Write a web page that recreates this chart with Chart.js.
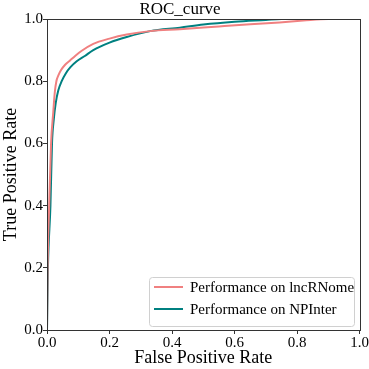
<!DOCTYPE html>
<html>
<head>
<meta charset="utf-8">
<script src="https://cdn.jsdelivr.net/npm/chart.js@4"></script>
<style>
  html, body { margin: 0; padding: 0; background: #fff; }
  #wrap { width: 369px; height: 369px; }
</style>
</head>
<body>
<div id="wrap"><canvas id="roc"></canvas></div>
<script>
// ROC curves
const seriesNames = ['Performance on lncRNome', 'Performance on NPInter'];
const seriesColors = ['#f08080', '#008080'];

const lncFpr = [0, 0.002, 0.007, 0.013, 0.02, 0.025, 0.03, 0.036, 0.045, 0.058, 0.073, 0.09, 0.11, 0.148, 0.2, 0.255, 0.33, 0.425, 0.55, 0.65, 0.744, 0.82, 0.9, 1];
const lncTpr = [0, 0.2, 0.4, 0.6, 0.7, 0.765, 0.8, 0.818, 0.836, 0.853, 0.866, 0.881, 0.897, 0.92, 0.937, 0.95, 0.961, 0.967, 0.976, 0.983, 0.989, 0.995, 1, 1];

const npiFpr = [0, 0.003, 0.011, 0.016, 0.022, 0.028, 0.036, 0.047, 0.06, 0.075, 0.095, 0.121, 0.148, 0.2, 0.255, 0.33, 0.425, 0.5, 0.6, 0.7, 0.75, 1];
const npiTpr = [0, 0.2, 0.4, 0.6, 0.68, 0.73, 0.77, 0.8, 0.825, 0.845, 0.864, 0.881, 0.9, 0.924, 0.942, 0.961, 0.972, 0.982, 0.991, 0.997, 1, 1];

const tickValues = [0, 0.2, 0.4, 0.6, 0.8, 1.0];
const tickLabels = ['0.0', '0.2', '0.4', '0.6', '0.8', '1.0'];

const FONT = '"Liberation Serif", "DejaVu Serif", serif';

function toPoints(xs, ys) {
    return xs.map((x, i) => ({ x: x, y: ys[i] }));
}

// frame round the plot area plus the legend inside it (bottom right)
const framePlugin = {
    id: 'frame',
    afterDraw(chart) {
        const { ctx, chartArea: a } = chart;
        ctx.save();
        ctx.strokeStyle = '#333';
        ctx.lineWidth = 1;
        ctx.strokeRect(Math.round(a.left) + 0.5, Math.round(a.top) + 0.5,
            Math.round(a.right - a.left), Math.round(a.bottom - a.top));

        // legend box
        const bx = 149, by = 277, bw = 205, bh = 49;
        ctx.fillStyle = 'rgba(255,255,255,0.85)';
        ctx.strokeStyle = '#d0d0d0';
        ctx.beginPath();
        ctx.roundRect(bx + 0.5, by + 0.5, bw, bh, 3);
        ctx.fill();
        ctx.stroke();

        ctx.font = '15px ' + FONT;
        ctx.textBaseline = 'middle';
        chart.data.datasets.forEach((ds, i) => {
            const y = by + 10 + i * 22;
            ctx.strokeStyle = ds.borderColor;
            ctx.lineWidth = 2;
            ctx.beginPath();
            ctx.moveTo(bx + 5, y);
            ctx.lineTo(bx + 34, y);
            ctx.stroke();
            ctx.fillStyle = '#000';
            ctx.fillText(ds.label, bx + 41, y + 1);
        });
        ctx.restore();
    }
};

const axisCommon = {
    type: 'linear',
    min: 0,
    max: 1,
    border: { display: true, color: '#333', width: 1 },
    grid: { display: true, drawOnChartArea: false, drawTicks: true, tickLength: 4, color: '#333' },
    afterBuildTicks(scale) {
        scale.ticks = tickValues.map(v => ({ value: v }));
    },
    ticks: {
        color: '#000',
        font: { family: FONT, size: 15 },
        padding: 0,
        callback(value) {
            const idx = tickValues.findIndex(v => Math.abs(v - value) < 1e-9);
            return idx >= 0 ? tickLabels[idx] : '';
        }
    }
};

new Chart(document.getElementById('roc'), {
    type: 'scatter',
    data: {
        datasets: [
            {
                label: seriesNames[0],
                data: toPoints(lncFpr, lncTpr),
                borderColor: seriesColors[0],
                backgroundColor: seriesColors[0],
                showLine: true,
                pointRadius: 0,
                borderWidth: 2,
                cubicInterpolationMode: 'monotone'
            },
            {
                label: seriesNames[1],
                data: toPoints(npiFpr, npiTpr),
                borderColor: seriesColors[1],
                backgroundColor: seriesColors[1],
                showLine: true,
                pointRadius: 0,
                borderWidth: 2,
                cubicInterpolationMode: 'monotone'
            }
        ]
    },
    options: {
        responsive: true,
        maintainAspectRatio: false,
        animation: false,
        layout: { padding: { left: 0, right: 9, top: 0, bottom: 0 } },
        plugins: {
            legend: { display: false },
            tooltip: { enabled: false },
            title: {
                display: true,
                text: 'ROC_curve',
                color: '#000',
                font: { family: FONT, size: 17, weight: 'normal', lineHeight: 19 / 17 },
                padding: { top: 0, bottom: 0 }
            }
        },
        scales: {
            x: Object.assign({}, axisCommon, {
                position: 'bottom',
                afterFit(scale) { scale.height = 39; },
                title: {
                    display: true,
                    text: 'False Positive Rate',
                    color: '#000',
                    font: { family: FONT, size: 18 },
                    padding: { top: 0, bottom: 0 }
                }
            }),
            y: Object.assign({}, axisCommon, {
                position: 'left',
                afterFit(scale) { scale.width = 47; },
                title: {
                    display: true,
                    text: 'True Positive Rate',
                    color: '#000',
                    font: { family: FONT, size: 18 },
                    padding: { top: 0, bottom: 2 }
                }
            })
        }
    },
    plugins: [framePlugin]
});
</script>
</body>
</html>
